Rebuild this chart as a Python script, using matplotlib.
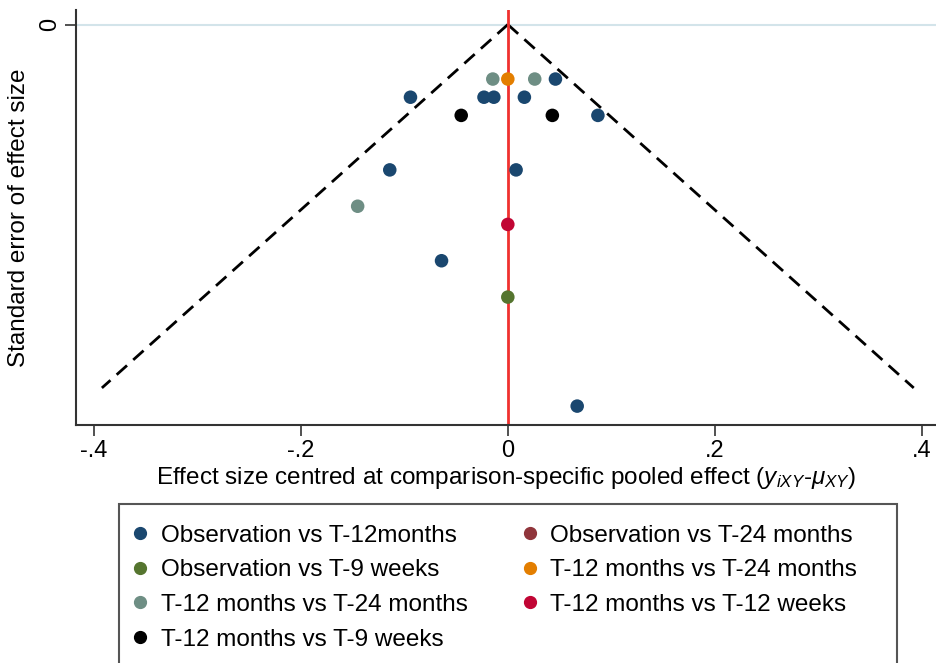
import matplotlib
matplotlib.use("Agg")
import matplotlib.pyplot as plt
import numpy as np
from matplotlib.lines import Line2D
from matplotlib.patches import Rectangle

plt.rcParams['font.family'] = ['Liberation Sans', 'DejaVu Sans']
plt.rcParams['mathtext.fontset'] = 'custom'
plt.rcParams['mathtext.it'] = 'Liberation Sans:italic'
plt.rcParams['mathtext.rm'] = 'Liberation Sans'

### series: (effect centred, standard error)
labels = ["Observation vs T-12months", "Observation vs T-24 months",
          "Observation vs T-9 weeks", "T-12 months vs T-24 months",
          "T-12 months vs T-24 months", "T-12 months vs T-12 weeks",
          "T-12 months vs T-9 weeks"]
colors = ["#1a476f", "#90353b", "#55752f", "#e37e00", "#6e8e84", "#c10534", "#000000"]

obs_t12m_x = [0.046, -0.094, -0.023, -0.0135, 0.016, 0.087, -0.114, 0.008, -0.064, 0.067]
obs_t12m_se = [0.03, 0.04, 0.04, 0.04, 0.04, 0.05, 0.08, 0.08, 0.13, 0.21]
obs_t24m_x = []
obs_t24m_se = []
obs_t9w_x = [0.0]
obs_t9w_se = [0.15]
t12_t24_orange_x = [0.0]
t12_t24_orange_se = [0.03]
t12_t24_teal_x = [-0.0145, 0.026, -0.145]
t12_t24_teal_se = [0.03, 0.03, 0.10]
t12_t12w_x = [0.0]
t12_t12w_se = [0.11]
t12_t9w_x = [-0.045, 0.043]
t12_t9w_se = [0.05, 0.05]

series_x = [obs_t12m_x, obs_t24m_x, obs_t9w_x, t12_t24_orange_x, t12_t24_teal_x, t12_t12w_x, t12_t9w_x]
series_se = [obs_t12m_se, obs_t24m_se, obs_t9w_se, t12_t24_orange_se, t12_t24_teal_se, t12_t12w_se, t12_t9w_se]

se_max = 0.2  ### funnel limit

fig = plt.figure(figsize=(9.36, 6.63), dpi=100)
ax = fig.add_axes([76/936, 1-425/663, 1-76/936, (425-10)/663])

ax.axhline(0, color="#d3e4ea", lw=1.5, zorder=0)
se_line = np.array([0, se_max])
ax.plot(-1.96*se_line, se_line, color="black", lw=2, ls=(0, (5, 3)), zorder=1)
ax.plot(1.96*se_line, se_line, color="black", lw=2, ls=(0, (5, 3)), zorder=1)
ax.axvline(0, color="#f0312f", lw=2, zorder=2)

for xs, ses, c in zip(series_x, series_se, colors):
    ax.scatter(xs, ses, s=95, color=c, edgecolors="none", zorder=3)

ax.set_xlim(-0.417, 0.4135)
ax.set_ylim(0.2204, -0.008)
ax.set_xticks([-0.4, -0.2, 0, 0.2, 0.4])
ax.set_xticklabels(["-.4", "-.2", "0", ".2", ".4"])
ax.set_yticks([0])
ax.set_yticklabels(["0"], rotation=90, va="center")
ax.tick_params(axis="both", labelsize=17, length=8, width=1.2, color="#333333", pad=3)
for side in ["top", "right"]:
    ax.spines[side].set_visible(False)
for side in ["left", "bottom"]:
    ax.spines[side].set_linewidth(1.5)
    ax.spines[side].set_color("#333333")

ax.set_xlabel(r"Effect size centred at comparison-specific pooled effect ($y_{iXY}$-$\mu_{XY}$)",
              fontsize=17.5, labelpad=2)
ax.set_ylabel("Standard error of effect size", fontsize=17.5, labelpad=6)

### legend box (runs off the bottom of the picture like the original)
fig.add_artist(Rectangle((119/936, -0.05), 778/936, (663-504)/663 + 0.05,
                         transform=fig.transFigure, fill=False,
                         edgecolor="#555555", lw=1.5))

### legend ordering: matplotlib fills columns first
order = [0, 2, 4, 6, 1, 3, 5]
handles = [Line2D([], [], ls="none", marker="o", markersize=8.5, color=colors[i]) for i in order]
leg = fig.legend(handles, [labels[i] for i in order], ncol=2,
                 loc="upper left", bbox_to_anchor=(119/936, 1-504/663),
                 fontsize=17.5, frameon=False,
                 handletextpad=0.85, handlelength=0.01, borderpad=0.85, labelspacing=0.52,
                 columnspacing=2.55, borderaxespad=0)

fig.savefig("out.png", dpi=100, facecolor="white")
